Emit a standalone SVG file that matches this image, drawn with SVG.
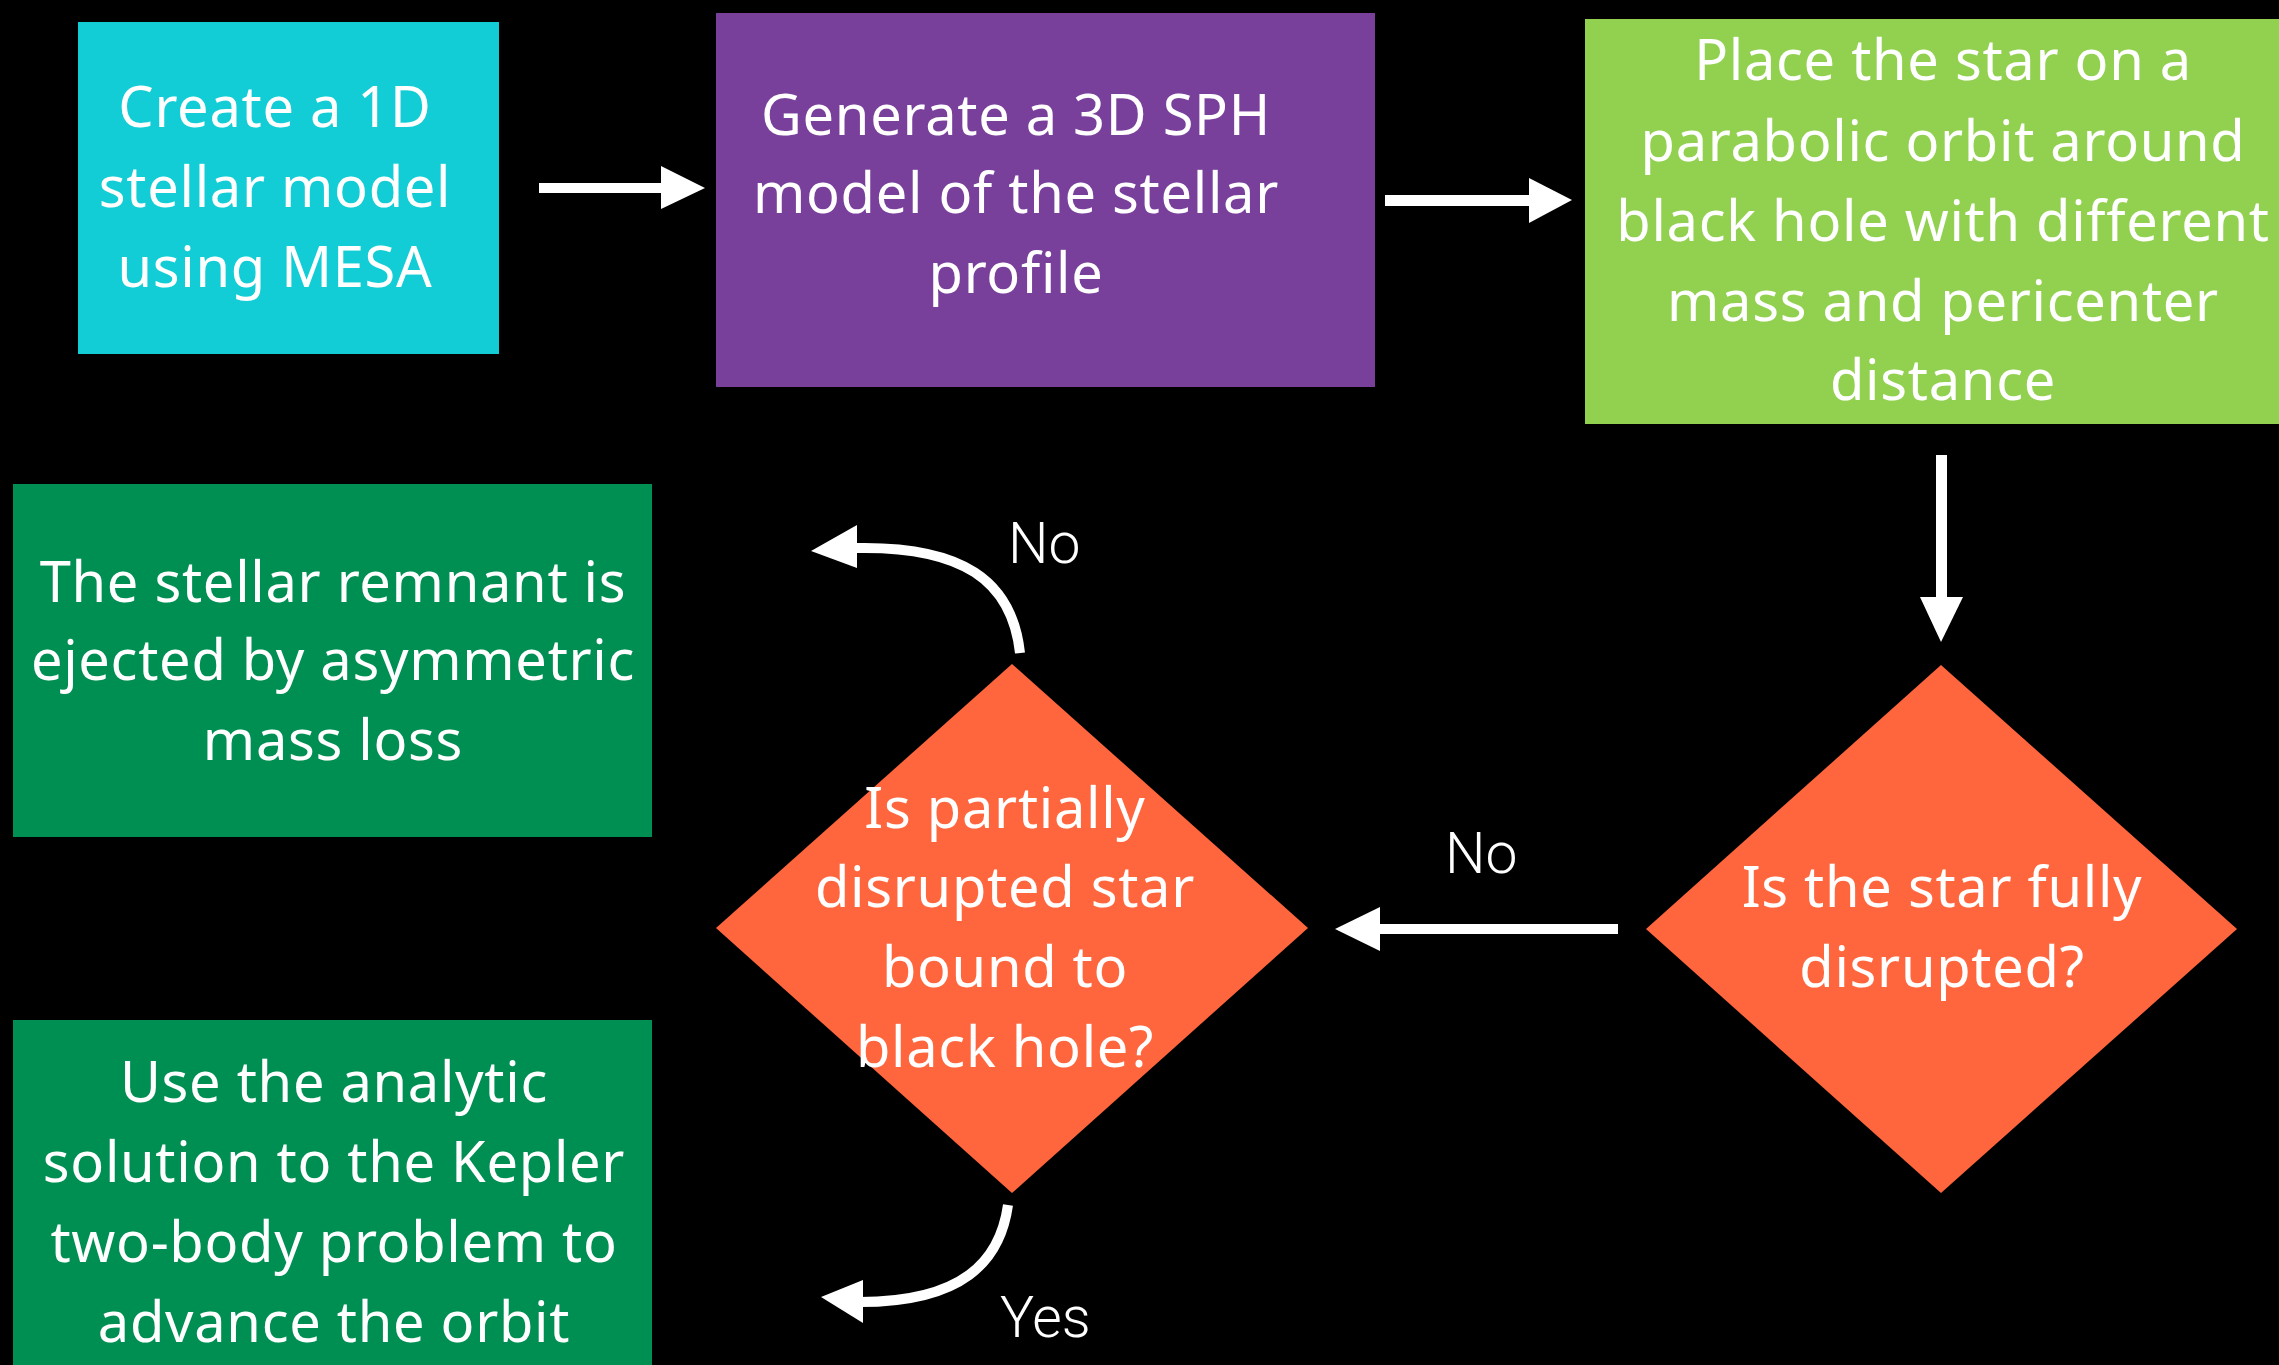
<svg xmlns="http://www.w3.org/2000/svg" width="2279" height="1365" viewBox="0 0 2279 1365">
<style>
.t{font-family:"Noto Sans","Open Sans","Liberation Sans",sans-serif;font-size:56px;letter-spacing:0.7px;fill:#fff;text-anchor:middle}
.l{font-family:Roboto,"Liberation Sans",sans-serif;font-weight:300;font-size:57px;fill:#fff}
.c{fill:none;stroke:#fff;stroke-width:10}
.h{fill:#fff}
</style>
<rect width="2279" height="1365" fill="#000"/>
<g id="node-mesa">
<rect x="78" y="22" width="421" height="332" fill="#12CDD6"/>
<text class="t" x="275" y="127">Create a 1D</text>
<text class="t" x="275" y="207">stellar model</text>
<text class="t" x="275" y="287">using MESA</text>
</g>
<g id="node-sph">
<rect x="716" y="13" width="659" height="374" fill="#783F9B"/>
<text class="t" x="1016" y="135">Generate a 3D SPH</text>
<text class="t" x="1016" y="213">model of the stellar</text>
<text class="t" x="1016" y="293">profile</text>
</g>
<g id="node-orbit">
<rect x="1585" y="19" width="694" height="405" fill="#92D150"/>
<text class="t" x="1943" y="80">Place the star on a</text>
<text class="t" x="1943" y="161">parabolic orbit around</text>
<text class="t" x="1943" y="241">black hole with different</text>
<text class="t" x="1943" y="321">mass and pericenter</text>
<text class="t" x="1943" y="400">distance</text>
</g>
<g id="node-ejected">
<rect x="13" y="484" width="639" height="353" fill="#008F52"/>
<text class="t" x="333" y="602">The stellar remnant is</text>
<text class="t" x="333" y="680">ejected by asymmetric</text>
<text class="t" x="333" y="760">mass loss</text>
</g>
<g id="node-kepler">
<rect x="13" y="1020" width="639" height="360" fill="#008F52"/>
<text class="t" x="334" y="1102">Use the analytic</text>
<text class="t" x="334" y="1182">solution to the Kepler</text>
<text class="t" x="334" y="1262">two-body problem to</text>
<text class="t" x="334" y="1342">advance the orbit</text>
</g>
<g id="node-bound">
<polygon points="1012,664 1308,928 1012,1193 716,928" fill="#FF663D"/>
<text class="t" x="1005" y="828">Is partially</text>
<text class="t" x="1005" y="907">disrupted star</text>
<text class="t" x="1005" y="987">bound to</text>
<text class="t" x="1005" y="1067">black hole?</text>
</g>
<g id="node-fully">
<polygon points="1941,665 2237,929 1941,1193 1646,929" fill="#FF663D"/>
<text class="t" x="1942" y="907">Is the star fully</text>
<text class="t" x="1942" y="987">disrupted?</text>
</g>
<g id="connectors">
<rect class="h" x="539" y="183" width="123" height="10"/>
<polygon class="h" points="661,166 705,188 661,209"/>
<rect class="h" x="1385" y="195" width="145" height="11"/>
<polygon class="h" points="1529,178 1572,200 1529,223"/>
<rect class="h" x="1936" y="455" width="11" height="143"/>
<polygon class="h" points="1920,597 1963,597 1941,642"/>
<rect class="h" x="1379" y="924" width="239" height="10"/>
<polygon class="h" points="1380,907 1335,929 1380,951"/>
<path class="c" d="M1020,653 C1012,580 962,546 856,548"/>
<polygon class="h" points="857,525 811,551 857,568"/>
<path class="c" d="M1008,1205 C1000,1262 962,1302 860,1302"/>
<polygon class="h" points="863,1280 821,1297 863,1323"/>
<text class="l" x="1008" y="563">No</text>
<text class="l" x="1445" y="873">No</text>
<text class="l" x="1000" y="1337">Yes</text>
</g>
</svg>
